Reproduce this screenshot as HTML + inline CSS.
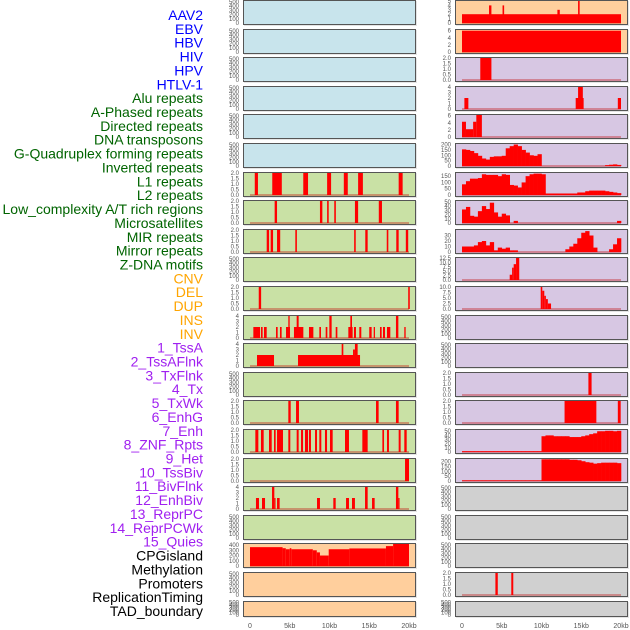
<!DOCTYPE html>
<html><head><meta charset="utf-8"><style>
body{margin:0;background:#fff;width:630px;height:630px;overflow:hidden}
svg{display:block}
</style></head><body>
<svg id="chart" width="630" height="630" xmlns="http://www.w3.org/2000/svg"></svg>
<script>
// ---- data ----
const labelNames = ["AAV2","EBV","HBV","HIV","HPV","HTLV-1","Alu repeats","A-Phased repeats","Directed repeats","DNA transposons","G-Quadruplex forming repeats","Inverted repeats","L1 repeats","L2 repeats","Low_complexity A/T rich regions","Microsatellites","MIR repeats","Mirror repeats","Z-DNA motifs","CNV","DEL","DUP","INS","INV","1_TssA","2_TssAFlnk","3_TxFlnk","4_Tx","5_TxWk","6_EnhG","7_Enh","8_ZNF_Rpts","9_Het","10_TssBiv","11_BivFlnk","12_EnhBiv","13_ReprPC","14_ReprPCWk","15_Quies","CPGisland","Methylation","Promoters","ReplicationTiming","TAD_boundary"];
const labelGroups = [0,0,0,0,0,0,1,1,1,1,1,1,1,1,1,1,1,1,1,2,2,2,2,2,3,3,3,3,3,3,3,3,3,3,3,3,3,3,3,4,4,4,4,4];
const xTickValues = [0,5,10,15,20];
const xTickLabels = ["0","5kb","10kb","15kb","20kb"];

// spike tracks: [startKb, endKb, value]
const left6 = [[0.6,1.0,2],[2.8,4.0,2],[6.7,7.3,2],[9.7,10.2,2],[11.8,12.3,2],[13.6,14.2,2],[18.7,19.2,2]];
const left7 = [[3.1,3.4,2],[8.8,9.1,2],[9.7,9.9,2],[10.6,10.8,2],[13.2,13.6,2],[16.2,16.6,2]];
const left8 = [[2.1,2.4,2],[2.6,2.9,2],[3.4,3.8,2],[5.7,5.9,2],[13.1,13.3,2],[14.5,14.8,2],[17.2,17.4,2],[18.4,18.7,2],[19.6,19.9,2]];
const left10 = [[1.1,1.4,2],[19.9,20.1,2]];
const left11 = [[0.42,1.26,2],[1.38,1.59,2],[1.76,2.1,2],[3.27,3.48,2],[3.77,3.98,2],[4.53,5.03,2],[4.82,4.99,4],[5.53,6.71,2],[5.87,6.12,4],[7.42,7.97,2],[8.72,8.93,2],[9.52,9.73,2],[9.98,10.27,4],[10.78,10.99,2],[12.37,12.91,2],[12.62,12.83,4],[13.08,13.33,2],[13.75,14.0,2],[15.0,15.3,2],[15.56,15.72,2],[16.35,16.56,2],[16.73,16.98,2],[17.23,17.65,2],[18.36,18.66,4],[19.41,19.58,2]];
const left12 = [[0.88,3.02,2],[6.04,13.84,2],[11.53,11.74,4],[12.96,13.2,3],[13.2,13.54,4]];
const left14 = [[4.82,5.12,2],[5.79,6.16,2],[15.85,16.18,2],[18.36,18.7,2]];
const left15 = [[0.67,1.05,2],[1.38,1.72,2],[2.39,2.73,2],[3.02,3.23,2],[3.4,4.15,2],[4.82,5.07,2],[5.87,6.12,2],[6.42,6.67,2],[6.92,7.3,2],[7.42,7.67,2],[8.18,8.43,2],[8.72,8.97,2],[9.43,9.69,2],[10.06,10.4,2],[11.95,12.45,2],[14.13,14.8,2],[16.65,16.86,2],[17.23,17.48,2],[18.7,18.95,2],[19.41,19.71,2]];
const left16 = [[19.5,20.0,2]];
const left17 = [[0.75,1.13,2],[1.51,1.89,2],[2.77,3.06,4],[3.06,3.2,2],[3.4,3.73,2],[8.43,8.8,2],[10.48,10.78,2],[12.08,12.45,2],[12.83,13.2,2],[14.47,14.8,4],[15.35,15.68,2],[18.36,18.66,4],[18.66,18.8,2]];
const left19 = [[0,4.1,360],[4.1,4.5,340],[4.5,5.0,320],[5.0,5.2,340],[5.2,7.9,320],[7.9,8.4,300],[8.4,8.8,260],[8.8,9.9,200],[9.9,12.5,320],[12.5,17.1,335],[17.1,18.0,380],[18.0,20.0,420]];
const right0 = [[0,20,2],[3.4,3.7,4],[5.1,5.3,4],[12.0,12.3,3],[14.6,14.8,5]];
const right1 = [[0,20,6]];
const right2 = [[2.3,3.7,2]];
const right3 = [[0.3,0.8,2],[14.3,15.3,2],[14.6,15.2,4],[19.6,20,2]];
const right4 = [[0,0.5,4.3],[0.5,1.4,2.2],[1.4,1.8,4.3],[1.8,2.5,6.2]];
const right9 = [[6.0,6.3,3],[6.3,6.5,7],[6.5,6.8,9],[6.8,7.2,12.5]];
const right10 = [[9.9,10.1,10],[10.1,10.35,8.3],[10.35,10.55,6],[10.55,10.8,4.5],[10.8,11.2,2.5]];
const right13 = [[15.9,16.3,2]];
const right14 = [[12.9,16.9,2],[19.6,19.96,2]];
const right20 = [[4.2,4.5,2],[6.2,6.45,2]];
// binned tracks: 0.5 kb bins starting at 0
const right5 = [155,150,140,120,95,70,60,85,90,90,95,165,185,200,185,150,125,100,95,110,0,0,0,0,0,0,0,0,0,0,0,0,0,0,0,0,8,12,15,10];
const right6 = [85,110,130,130,135,165,160,160,160,150,165,160,80,75,60,100,150,165,170,170,165,12,12,12,12,12,12,12,12,20,20,30,35,35,35,35,30,25,20,15];
const right7 = [32,38,17,15,28,40,33,48,25,15,22,18,0,5,0,0,0,0,0,0,0,0,0,0,0,0,0,0,0,0,0,0,0,0,0,0,0,0,0,5];
const right8 = [10,10,10,12,18,20,12,18,3,8,6,8,3,3,0,0,0,0,0,0,0,0,0,0,0,0,5,10,15,25,35,38,30,8,0,0,0,5,14,25];
const right15 = [2,2,2,2,2,2,2,2,2,2,2,2,2,2,2,2,2,2,2,2,38,40,40,38,38,38,38,36,36,36,38,40,43,45,50,50,51,51,50,51];
const right16 = [7,7,7,7,7,7,7,7,7,7,7,7,7,7,7,7,7,7,7,7,225,225,225,225,225,225,225,220,220,215,205,195,190,180,185,190,190,190,190,185];

const T500 = [0,100,200,300,400,500];
const T2 = [0,0.5,1,1.5,2];
const T4 = [0,1,2,3,4];
const BLUE="#c8e4ec",GREEN="#c9e1a5",ORANGE="#ffcf9d",PURPLE="#d7c7e3",GRAY="#d0d0d0";
const panels = [
 [0,0,BLUE,520,T500,null,null],[0,1,BLUE,520,T500,null,null],[0,2,BLUE,520,T500,null,null],[0,3,BLUE,520,T500,null,null],[0,4,BLUE,520,T500,null,null],[0,5,BLUE,520,T500,null,null],
 [0,6,GREEN,2,T2,left6,null],[0,7,GREEN,2,T2,left7,null],[0,8,GREEN,2,T2,left8,null],[0,9,GREEN,520,T500,null,null],
 [0,10,GREEN,2,T2,left10,null],[0,11,GREEN,4,T4,left11,null],[0,12,GREEN,4,T4,left12,null],[0,13,GREEN,520,T500,null,null],
 [0,14,GREEN,2,T2,left14,null],[0,15,GREEN,2,T2,left15,null],[0,16,GREEN,2,T2,left16,null],[0,17,GREEN,4,T4,left17,null],[0,18,GREEN,520,T500,null,null],
 [0,19,ORANGE,420,[0,100,200,300,400],left19,null],[0,20,ORANGE,520,T500,null,null],[0,21,ORANGE,520,T500,null,null],
 [1,0,ORANGE,5,[0,1,2,3,4,5],right0,null],[1,1,ORANGE,6.2,[0,2,4,6],right1,null],[1,2,PURPLE,2,T2,right2,null],[1,3,PURPLE,4,T4,right3,null],
 [1,4,PURPLE,6.2,[0,2,4,6],right4,null],[1,5,PURPLE,205,[0,50,100,150,200],null,right5],[1,6,PURPLE,175,[0,50,100,150],null,right6],
 [1,7,PURPLE,52,[0,10,20,30,40,50],null,right7],[1,8,PURPLE,40,[0,10,20,30],null,right8],[1,9,PURPLE,12.5,[0,2.5,5,7.5,10,12.5],right9,null],
 [1,10,PURPLE,10,[0,2.5,5,7.5,10],right10,null],[1,11,PURPLE,520,T500,null,null],[1,12,PURPLE,520,T500,null,null],
 [1,13,PURPLE,2,T2,right13,null],[1,14,PURPLE,2,T2,right14,null],[1,15,PURPLE,53,[0,10,20,30,40,50],null,right15],
 [1,16,PURPLE,228,[0,50,100,150,200],null,right16],[1,17,GRAY,520,T500,null,null],[1,18,GRAY,520,T500,null,null],
 [1,19,GRAY,520,T500,null,null],[1,20,GRAY,2,T2,right20,null],[1,21,GRAY,520,T500,null,null]
];
// ---- drawing ----
const NS="http://www.w3.org/2000/svg";
const svg=document.getElementById('chart');
function mk(tag,attrs,parent){const e=document.createElementNS(NS,tag);for(const k in attrs)e.setAttribute(k,attrs[k]);(parent||svg).appendChild(e);return e;}
const colLeft=[243,455], panelW=173, pitch=28.6;
function xScale(kb,col){return colLeft[col]+7+kb*7.95;}
function rowTop(r){return Math.round(r*pitch);}
function rowH(r){return r===21?16:25;}
function yScale(v,r,ymax){const t=rowTop(r),h=rowH(r);return t+h-2-(v/ymax)*(h-3);}

const groupColors=["#0000ff","#006400","#ffa500","#a020f0","#000000"];
labelNames.forEach((n,i)=>{
  const t=mk('text',{x:203,y:15+i*13.86+5,'text-anchor':'end','font-size':14,'font-family':'Liberation Sans, sans-serif',fill:groupColors[labelGroups[i]]});
  t.textContent=n;
  
  
});

panels.forEach((p,pi)=>{
  const [col,row,bg,ymax,ticks,spikes,bins]=p;
  const top=rowTop(row),h=rowH(row),x0=colLeft[col];
  const g=mk('g',{});
  
  
  mk('rect',{x:x0+1,y:top+1,width:panelW,height:h,fill:'#e4e4e4'},g);
  const bgr=mk('rect',{x:x0,y:top,width:panelW,height:h,fill:bg},g);
  
  
  const hasData=spikes||bins;
  if(hasData){
    const bl=mk('line',{x1:xScale(0,col),x2:xScale(20,col),y1:yScale(0,row,ymax),y2:yScale(0,row,ymax),stroke:'rgba(190,0,0,0.45)','stroke-width':1.5},g);
    
    
  }
  if(spikes){
    spikes.forEach(s=>{
      const xa=xScale(s[0],col),xb=xScale(s[1],col),yv=yScale(s[2],row,ymax),yb=yScale(0,row,ymax);
      const r=mk('rect',{x:xa,y:yv,width:Math.max(1.2,xb-xa),height:yb-yv,fill:'#ff0000'},g);
      
      
    });
  }
  if(bins){
    bins.forEach((v,i)=>{
      if(v<=0)return;
      const xa=xScale(i*0.5,col),xb=xScale(i*0.5+0.5,col),yv=yScale(v,row,ymax),yb=yScale(0,row,ymax);
      const r=mk('rect',{x:xa,y:yv,width:xb-xa+0.3,height:yb-yv,fill:'#ff0000'},g);
      
      
    });
  }
  mk('rect',{x:x0+0.5,y:top+0.5,width:panelW-1,height:h-1,fill:'none',stroke:'#555','stroke-width':1},g);
  const decimals = ticks.some(v=>v%1!==0);
  ticks.forEach(tv=>{
    const lbl=decimals?tv.toFixed(1):String(tv);
    const t=mk('text',{x:x0-4,y:yScale(tv,row,ymax)+2,'text-anchor':'end','font-size':6,'font-family':'Liberation Sans, sans-serif',fill:'#555'},g);
    t.textContent=lbl;
    
    
  });
});
[0,1].forEach(col=>{
  xTickValues.forEach((v,i)=>{
    const t=mk('text',{x:xScale(v,col),y:628,'text-anchor':'middle','font-size':7,'font-family':'Liberation Sans, sans-serif',fill:'#555'});
    t.textContent=xTickLabels[i];
    
    
  });
});
</script>
</body></html>
